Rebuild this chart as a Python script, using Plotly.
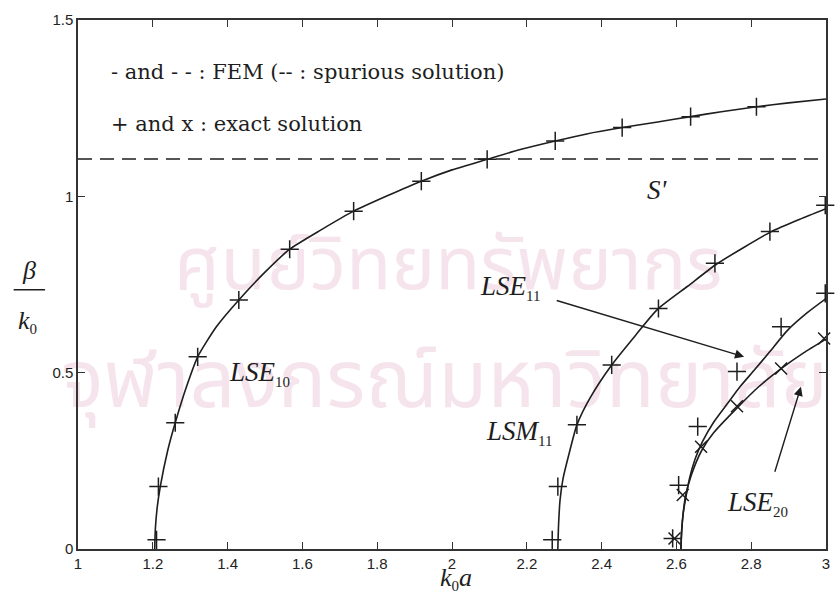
import plotly.graph_objects as go

# ---------------- data ----------------
# FEM curves (solid lines)
lse10_x = [1.205, 1.207, 1.212, 1.22, 1.24, 1.26, 1.29, 1.32, 1.37, 1.43, 1.5, 1.566, 1.65, 1.737,
           1.83, 1.918, 2.0, 2.094, 2.18, 2.276, 2.36, 2.455, 2.55, 2.638, 2.72, 2.814, 2.9, 3.0]
lse10_y = [0.0, 0.06, 0.12, 0.177, 0.28, 0.358, 0.46, 0.545, 0.63, 0.706, 0.785, 0.85, 0.905, 0.958,
           1.003, 1.043, 1.075, 1.105, 1.132, 1.157, 1.177, 1.195, 1.211, 1.226, 1.24, 1.254, 1.265, 1.276]

lsm11_x = [2.283, 2.285, 2.289, 2.297, 2.313, 2.334, 2.37, 2.427, 2.49, 2.55, 2.63, 2.705, 2.78, 2.854, 2.93, 3.0]
lsm11_y = [0.0, 0.07, 0.14, 0.2, 0.27, 0.352, 0.43, 0.522, 0.605, 0.68, 0.745, 0.806, 0.855, 0.9, 0.935, 0.965]

lse11_x = [2.612, 2.614, 2.618, 2.624, 2.635, 2.65, 2.67, 2.70, 2.737, 2.77, 2.809, 2.85, 2.897, 2.95, 3.0]
lse11_y = [0.0, 0.05, 0.1, 0.139, 0.2, 0.255, 0.305, 0.36, 0.413, 0.46, 0.508, 0.56, 0.62, 0.67, 0.71]

lse20_x = [2.612, 2.614, 2.618, 2.624, 2.64, 2.668, 2.70, 2.765, 2.82, 2.881, 2.94, 3.0]
lse20_y = [0.0, 0.05, 0.1, 0.148, 0.21, 0.28, 0.33, 0.403, 0.46, 0.512, 0.556, 0.595]

# spurious FEM solution (dashed)
spurious_x = [1.0, 3.0]
spurious_y = [1.106, 1.106]

# exact solutions (markers)
lse10_plus_x = [1.21, 1.215, 1.26, 1.32, 1.43, 1.566, 1.737, 1.918, 2.094, 2.276, 2.455, 2.638, 2.814]
lse10_plus_y = [0.026, 0.177, 0.358, 0.545, 0.706, 0.85, 0.958, 1.043, 1.105, 1.157, 1.195, 1.226, 1.254]

lsm11_plus_x = [2.268, 2.283, 2.334, 2.427, 2.552, 2.703, 2.85, 2.998]
lsm11_plus_y = [0.026, 0.177, 0.352, 0.522, 0.682, 0.81, 0.9, 0.975]

lse11_plus_x = [2.59, 2.606, 2.657, 2.762, 2.88, 2.998]
lse11_plus_y = [0.03, 0.181, 0.347, 0.503, 0.63, 0.725]

lse20_cross_x = [2.595, 2.617, 2.666, 2.762, 2.88, 2.995]
lse20_cross_y = [0.03, 0.153, 0.29, 0.405, 0.512, 0.597]

x_ticks = [1, 1.2, 1.4, 1.6, 1.8, 2, 2.2, 2.4, 2.6, 2.8, 3]
x_tick_text = ["1", "1.2", "1.4", "1.6", "1.8", "2", "2.2", "2.4", "2.6", "2.8", "3"]
y_ticks = [0, 0.5, 1, 1.5]
y_tick_text = ["0", "0.5", "1", "1.5"]

watermark_lines = ["ศูนย์วิทยทรัพยากร", "จุฬาลงกรณ์มหาวิทยาลัย"]

# ---------------- figure ----------------
INK = "#1e1e1e"
fig = go.Figure()

# faint watermark (drawn first, below the curves)
fig.add_trace(go.Scatter(
    x=[1.99, 1.98], y=[0.79, 0.46], mode="text", text=watermark_lines,
    textfont=dict(family="Noto Sans Thai, Noto Serif Thai, Loma, Garuda, sans-serif",
                  size=[74, 80], color="rgba(238,205,222,0.55)"),
    cliponaxis=False, hoverinfo="skip", showlegend=False))

line_style = dict(color=INK, width=1.6)
for cx, cy in [(lse10_x, lse10_y), (lsm11_x, lsm11_y), (lse11_x, lse11_y), (lse20_x, lse20_y)]:
    fig.add_trace(go.Scatter(x=cx, y=cy, mode="lines", line=dict(shape="spline", smoothing=0.6, **line_style),
                             showlegend=False, hoverinfo="skip"))

fig.add_trace(go.Scatter(x=spurious_x, y=spurious_y, mode="lines",
                         line=dict(color=INK, width=1.6, dash="14px,8px"),
                         showlegend=False, hoverinfo="skip"))

plus_marker = dict(symbol="cross-thin", size=13, line=dict(color=INK, width=1.5))
cross_marker = dict(symbol="x-thin", size=12, line=dict(color=INK, width=1.5))
for mx, my in [(lse10_plus_x, lse10_plus_y), (lsm11_plus_x, lsm11_plus_y), (lse11_plus_x, lse11_plus_y)]:
    fig.add_trace(go.Scatter(x=mx, y=my, mode="markers", marker=plus_marker, cliponaxis=False,
                             showlegend=False, hoverinfo="skip"))
fig.add_trace(go.Scatter(x=lse20_cross_x, y=lse20_cross_y, mode="markers", marker=cross_marker,
                         cliponaxis=False, showlegend=False, hoverinfo="skip"))

serif = "Liberation Serif"
text_font = dict(family="DejaVu Serif", size=21, color=INK)
label_font = dict(family=serif, size=27, color=INK)
sub = lambda s: '<sub><span style="font-size:15px">' + s + '</span></sub>'

annotations = [
    dict(x=1.082, y=1.352, text="- and - - : FEM (-- : spurious solution)", font=text_font),
    dict(x=1.082, y=1.205, text="+ and x : exact solution", font=text_font),
    dict(x=1.399, y=0.499, text="<i>LSE</i>" + sub("10"), font=label_font),
    dict(x=2.085, y=0.329, text="<i>LSM</i>" + sub("11"), font=label_font),
    dict(x=2.069, y=0.741, text="<i>LSE</i>" + sub("11"), font=label_font),
    dict(x=2.729, y=0.13, text="<i>LSE</i>" + sub("20"), font=label_font),
    dict(x=2.516, y=1.018, text="<i>S'</i>", font=label_font),
]
for a in annotations:
    a.update(xref="x", yref="y", xanchor="left", yanchor="middle", showarrow=False)

# arrows
annotations += [
    dict(x=2.781, y=0.545, ax=2.276, ay=0.706, xref="x", yref="y", axref="x", ayref="y",
         text="", showarrow=True, arrowhead=2, arrowsize=1.3, arrowwidth=1.4, arrowcolor=INK),
    dict(x=2.933, y=0.46, ax=2.862, ay=0.215, xref="x", yref="y", axref="x", ayref="y",
         text="", showarrow=True, arrowhead=2, arrowsize=1.3, arrowwidth=1.4, arrowcolor=INK),
]

# axis titles
annotations += [
    dict(x=0.505, y=-0.055, xref="paper", yref="paper", text="<i>k</i>" + sub("0") + "<i>a</i>",
         font=dict(family=serif, size=26, color=INK), showarrow=False, xanchor="center", yanchor="middle"),
    dict(x=-0.066, y=0.527, xref="paper", yref="paper", text="<i>β</i>",
         font=dict(family=serif, size=26, color=INK), showarrow=False, xanchor="center", yanchor="middle"),
    dict(x=-0.067, y=0.43, xref="paper", yref="paper", text="<i>k</i>" + sub("0"),
         font=dict(family=serif, size=26, color=INK), showarrow=False, xanchor="center", yanchor="middle"),
]

fig.update_layout(
    width=838, height=616,
    margin=dict(l=78, r=8, t=20, b=67),
    paper_bgcolor="white", plot_bgcolor="white",
    annotations=annotations,
    shapes=[dict(type="line", xref="paper", yref="paper", x0=-0.086, x1=-0.044, y0=0.49, y1=0.49,
                 line=dict(color=INK, width=1.5))],
)

axis_common = dict(showline=True, linecolor="#333", linewidth=1.5, mirror="ticks", ticks="inside",
                   ticklen=7, tickwidth=1.2, tickcolor="#333", showgrid=False, zeroline=False,
                   tickfont=dict(family="Liberation Sans", size=15, color="#222"))
fig.update_xaxes(range=[1, 3], tickvals=x_ticks, ticktext=x_tick_text, **axis_common)
fig.update_yaxes(range=[0, 1.5], tickvals=y_ticks, ticktext=y_tick_text, **axis_common)

fig.write_html("out.html")
